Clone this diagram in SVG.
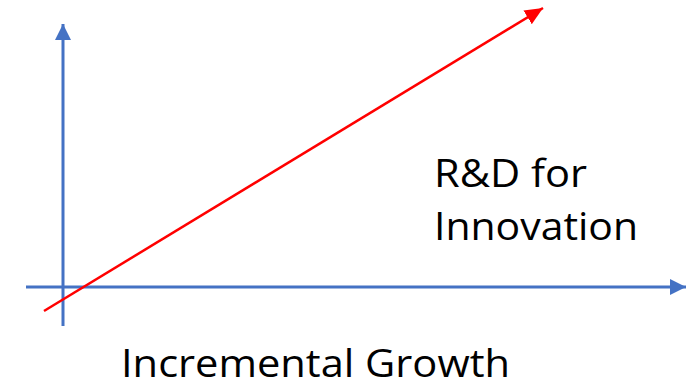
<svg xmlns="http://www.w3.org/2000/svg" width="693" height="385" viewBox="0 0 693 385">
<style>
.axis{stroke:#4472C4;stroke-width:3;fill:none}
.trend{stroke:#FF0000;stroke-width:2.5;fill:none}
.lbl{font-family:"Open Sans","Liberation Sans",sans-serif;font-size:39px;fill:#000}
</style>
<defs>
<marker id="ab" markerUnits="userSpaceOnUse" markerWidth="18" markerHeight="18" refX="16" refY="8" orient="auto"><path d="M0,0 L16,8 L0,16 Z" fill="#4472C4"/></marker>
<marker id="ar" markerUnits="userSpaceOnUse" markerWidth="20" markerHeight="20" refX="18" refY="8" orient="auto"><path d="M0,0 L18,8 L0,16 Z" fill="#FF0000"/></marker>
</defs>
<rect width="693" height="385" fill="#fff"/>
<g id="connectors">
<line class="axis" x1="63" y1="326" x2="63" y2="24" marker-end="url(#ab)"/>
<line class="axis" x1="26" y1="287" x2="686" y2="287" marker-end="url(#ab)"/>
<line class="trend" x1="44" y1="311" x2="543" y2="8" marker-end="url(#ar)"/>
</g>
<g id="label-innovation">
<text class="lbl" x="434" y="187" textLength="153" lengthAdjust="spacingAndGlyphs">R&amp;D for</text>
<text class="lbl" x="434" y="240" textLength="204" lengthAdjust="spacingAndGlyphs">Innovation</text>
</g>
<g id="label-growth">
<text class="lbl" x="121" y="377" textLength="389" lengthAdjust="spacingAndGlyphs">Incremental Growth</text>
</g>
</svg>
